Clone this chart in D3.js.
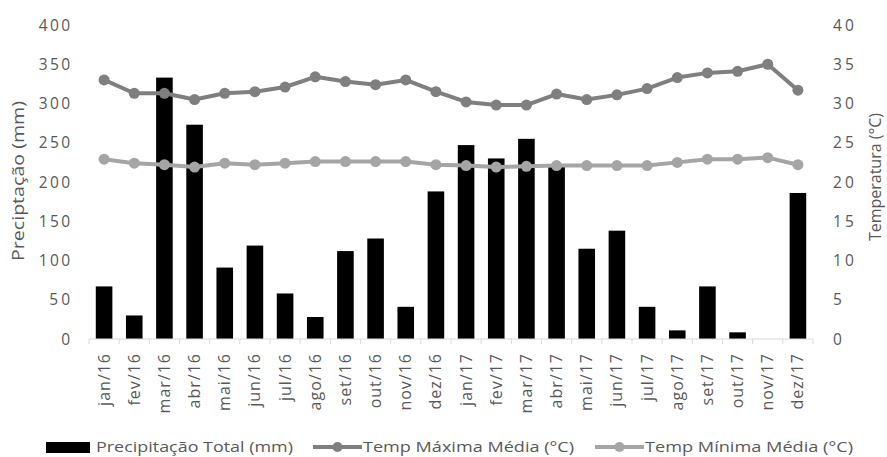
<!DOCTYPE html>
<html><head><meta charset="utf-8">
<script src="https://cdn.jsdelivr.net/npm/d3@7"></script>
<style>body{margin:0;background:#fff}svg{display:block;font-family:"Open Sans","Liberation Sans",sans-serif}</style>
</head><body><svg id="c" width="887" height="457"></svg>
<script>
const categories=["jan/16","fev/16","mar/16","abr/16","mai/16","jun/16","jul/16","ago/16","set/16","out/16","nov/16","dez/16","jan/17","fev/17","mar/17","abr/17","mai/17","jun/17","jul/17","ago/17","set/17","out/17","nov/17","dez/17"];
const precip=[67,30,333,273,91,119,58,28,112,128,41,188,247,230,255,220,115,138,41,11,67,8.5,0,186];
const tmax=[33.0,31.3,31.3,30.5,31.3,31.5,32.1,33.4,32.8,32.4,33.0,31.5,30.2,29.8,29.8,31.2,30.5,31.1,31.9,33.3,33.9,34.1,35.0,31.7];
const tmin=[22.9,22.4,22.2,21.9,22.4,22.2,22.4,22.6,22.6,22.6,22.6,22.2,22.1,21.9,22.0,22.1,22.1,22.1,22.1,22.5,22.9,22.9,23.1,22.2];
const leftTicks=[0,50,100,150,200,250,300,350,400];
const rightTicks=[0,5,10,15,20,25,30,35,40];

const svg=d3.select("#c");
const L=89,R=813,T=25,B=339;
const x=d3.scaleBand().domain(categories).range([L,R]).paddingInner(0.45).paddingOuter(0.225);
const xb=d3.scaleBand().domain(categories).range([L,R]);
const y=d3.scaleLinear().domain([0,400]).range([B,T]);
const y2=d3.scaleLinear().domain([0,40]).range([B,T]);
const txt="#595959";

// bars
svg.append("g").selectAll("rect").data(precip).join("rect")
 .attr("x",(d,i)=>x(categories[i])).attr("width",x.bandwidth())
 .attr("y",d=>y(d)).attr("height",d=>B-y(d)).attr("fill","#000");

// bottom axis
const gx=svg.append("g").attr("transform",`translate(0,${B})`);
gx.append("line").attr("x1",L).attr("x2",R).attr("stroke","#d9d9d9").attr("stroke-width",1);
gx.selectAll("line.t").data(d3.range(categories.length+1)).join("line").attr("class","t")
 .attr("x1",i=>L+i*xb.step()).attr("x2",i=>L+i*xb.step()).attr("y1",0).attr("y2",5).attr("stroke","#d9d9d9");
gx.selectAll("text").data(categories).join("text")
 .attr("transform",d=>`translate(${xb(d)+xb.bandwidth()/2+5.5},14) rotate(-90)`)
 .attr("text-anchor","end").attr("fill",txt).attr("font-size",16).attr("letter-spacing",1).text(d=>d);

// axis labels
svg.append("g").selectAll("text").data(leftTicks).join("text")
 .attr("x",70).attr("y",d=>y(d)+5.5).attr("text-anchor","end").attr("fill",txt).attr("font-size",15.5)
 .attr("textLength",d=>String(d).length*10.4).attr("lengthAdjust","spacing").text(d=>d);
svg.append("g").selectAll("text").data(rightTicks).join("text")
 .attr("x",833).attr("y",d=>y2(d)+5.5).attr("text-anchor","start").attr("fill",txt).attr("font-size",15.5)
 .attr("textLength",d=>String(d).length*10.4).attr("lengthAdjust","spacing").text(d=>d);

svg.append("text").attr("transform",`translate(24,181) rotate(-90)`).attr("text-anchor","middle")
 .attr("fill",txt).attr("font-size",16).attr("textLength",160).attr("lengthAdjust","spacingAndGlyphs").text("Preciptação (mm)");
svg.append("text").attr("transform",`translate(881,177) rotate(-90)`).attr("text-anchor","middle")
 .attr("fill",txt).attr("font-size",16).attr("textLength",128).attr("lengthAdjust","spacingAndGlyphs").text("Temperatura (°C)");

// lines
function series(data,color){
  const cx=(d,i)=>xb(categories[i])+xb.bandwidth()/2;
  const line=d3.line().x(cx).y(d=>y2(d));
  svg.append("path").datum(data).attr("d",line).attr("fill","none").attr("stroke",color).attr("stroke-width",4).attr("stroke-linejoin","round");
  svg.append("g").selectAll("circle").data(data).join("circle").attr("cx",cx).attr("cy",d=>y2(d)).attr("r",5.5).attr("fill",color);
}
series(tmax,"#7f7f7f");
series(tmin,"#a5a5a5");

// legend
const lg=svg.append("g").attr("font-size",15).attr("fill",txt);
lg.append("rect").attr("x",46).attr("y",442).attr("width",44).attr("height",11).attr("fill","#000");
lg.append("text").attr("x",96).attr("y",452).attr("fill",txt).attr("textLength",197).attr("lengthAdjust","spacingAndGlyphs").text("Precipitação Total (mm)");
[[313,"#7f7f7f","Temp Máxima Média (°C)",211],[595,"#a5a5a5","Temp Mínima Média (°C)",208]].forEach(([lx,c,t,w])=>{
  lg.append("line").attr("x1",lx).attr("x2",lx+49).attr("y1",447).attr("y2",447).attr("stroke",c).attr("stroke-width",4);
  lg.append("circle").attr("cx",lx+24.5).attr("cy",447).attr("r",5).attr("fill",c);
  lg.append("text").attr("x",lx+50).attr("y",452).attr("fill",txt).attr("textLength",w).attr("lengthAdjust","spacingAndGlyphs").text(t);
});
</script></body></html>
